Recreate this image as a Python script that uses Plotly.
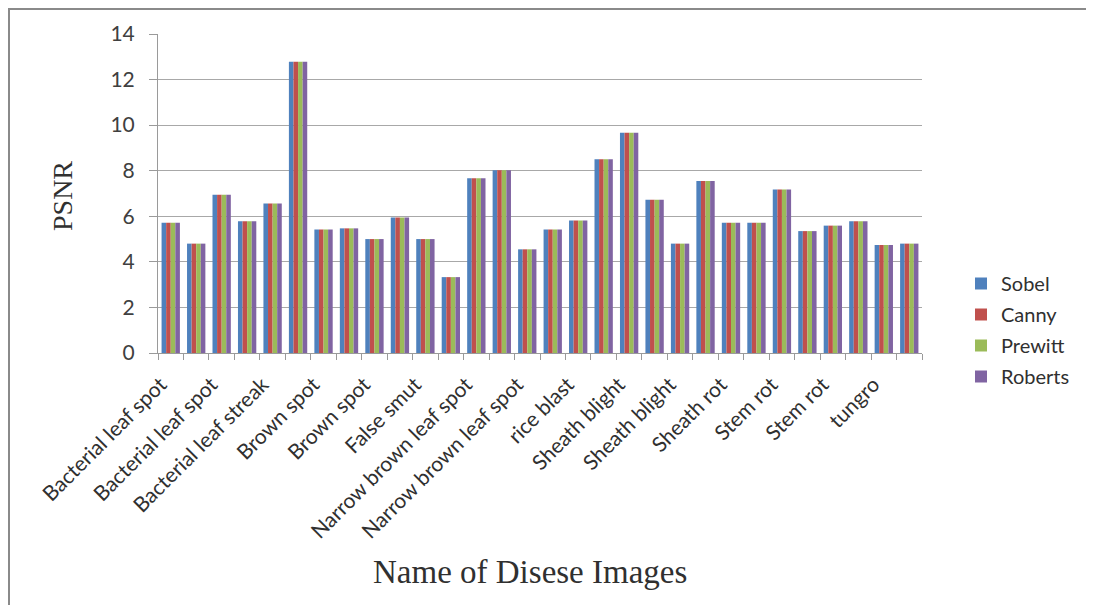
import plotly.graph_objects as go

# ---- data ----
tick_labels = [
    "Bacterial leaf spot", "Bacterial leaf spot", "Bacterial leaf streak",
    "Brown spot", "Brown spot", "False smut", "Narrow brown leaf spot",
    "Narrow brown leaf spot", "rice blast", "Sheath blight", "Sheath blight",
    "Sheath rot", "Stem rot", "Stem rot", "tungro",
]
image_index = list(range(30))
sobel = [5.72, 4.80, 6.95, 5.78, 6.56, 12.78, 5.42, 5.47, 5.00, 5.95, 5.00, 3.33,
         7.67, 8.02, 4.55, 5.42, 5.82, 8.50, 9.67, 6.73, 4.80, 7.55, 5.72, 5.72,
         7.18, 5.35, 5.59, 5.78, 4.74, 4.80]
canny = list(sobel)
prewitt = list(sobel)
roberts = list(sobel)
series_names = ["Sobel", "Canny", "Prewitt", "Roberts"]
series_values = [sobel, canny, prewitt, roberts]
colors = ["#4F81BD", "#C0504D", "#9BBB59", "#8064A2"]

# page has an 8px body margin, so figure coords = page coords - 8
OFF = 8
W, H = 1094 - 2 * OFF, 613 - 2 * OFF
L, R, T, B = 158 - OFF, 922 - OFF, 34 - OFF, 353 - OFF

fig = go.Figure()
for name, vals, c in zip(series_names, series_values, colors):
    fig.add_trace(go.Bar(x=image_index, y=vals, name=name, marker_color=c,
                         marker_line_width=0, legendgroup=name))

def px_x(p):  # page px -> paper
    return (p - OFF - L) / (R - L)

def px_y(p):
    return (B - (p - OFF)) / (B - T)

SANS = "Lato, Open Sans, sans-serif"
SERIF = "Liberation Serif, Times New Roman, serif"

# labels sit on every other category; Excel anchors them a little left of the bar centre
label_pos = [i - 0.4 for i in image_index[::2]]

fig.update_layout(
    width=W, height=H,
    margin=dict(l=L, r=W - R, t=T, b=H - B, autoexpand=False),
    paper_bgcolor="white", plot_bgcolor="white",
    barmode="group", bargap=0.28, bargroupgap=0,
    font=dict(family=SANS, color="#404040"),
    legend=dict(x=px_x(961), y=px_y(264), xanchor="left", yanchor="top",
                font=dict(size=20, family=SANS, color="#303030"),
                traceorder="grouped", tracegroupgap=2, itemwidth=30),
    xaxis=dict(
        range=[-0.5, 29.5], tickmode="array",
        tickvals=label_pos, ticktext=tick_labels,
        tickangle=-45, tickfont=dict(size=21, color="#303030"),
        ticks="", showgrid=False, zeroline=False, ticklabelstandoff=10,
        showline=True, linecolor="#9a9a9a", linewidth=1,
        minor=dict(tickmode="linear", tick0=-0.5, dtick=1, ticks="outside",
                   ticklen=6, tickcolor="#9a9a9a", showgrid=False),
    ),
    yaxis=dict(
        range=[0, 14], dtick=2, tickfont=dict(size=21, color="#404040"),
        ticks="outside", ticklen=8, tickcolor="#9a9a9a", ticklabelstandoff=10,
        showgrid=True, gridcolor="#a8a8a8", gridwidth=1, zeroline=False,
        showline=True, linecolor="#9a9a9a", linewidth=1,
    ),
    annotations=[
        dict(text="PSNR", xref="paper", yref="paper", x=px_x(62), y=px_y(196),
             xanchor="center", yanchor="middle",
             textangle=-90, showarrow=False,
             font=dict(family=SERIF, size=28, color="#303030")),
        dict(text="Name of Disese Images", xref="paper", yref="paper", x=px_x(530), y=px_y(572),
             xanchor="center", yanchor="middle",
             showarrow=False,
             font=dict(family=SERIF, size=33, color="#303030")),
    ],
    shapes=[
        dict(type="line", xref="paper", yref="paper",
             x0=px_x(7), x1=px_x(1110), y0=px_y(9), y1=px_y(9),
             line=dict(color="#8a8a8a", width=2), layer="below"),
        dict(type="line", xref="paper", yref="paper",
             x0=px_x(9), x1=px_x(9), y0=px_y(8), y1=px_y(620),
             line=dict(color="#8a8a8a", width=2), layer="below"),
    ],
)

fig.write_html("out.html")
